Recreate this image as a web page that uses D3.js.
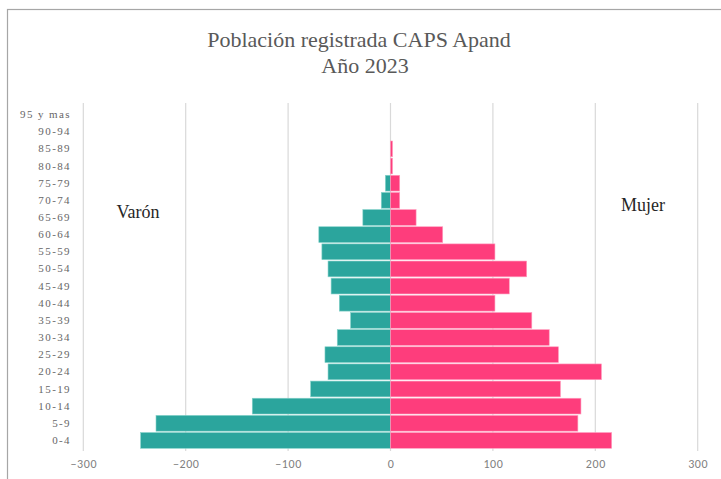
<!DOCTYPE html>
<html><head><meta charset="utf-8">
<script src="https://cdn.jsdelivr.net/npm/d3@7"></script>
<style>body{margin:0;background:#fff}</style>
</head><body>
<svg id="c" width="721" height="479"></svg>
<script>
const categories = ["0-4","5-9","10-14","15-19","20-24","25-29","30-34","35-39","40-44","45-49","50-54","55-59","60-64","65-69","70-74","75-79","80-84","85-89","90-94","95 y mas"];
const categoryLabels = ["0-4","5-9","10-14","15-19","20-24","25-29","30-34","35-39","40-44","45-49","50-54","55-59","60-64","65-69","70-74","75-79","80-84","85-89","90-94","95 y mas"];
const varon = [244,229,135,78,61,64,52,39,50,58,61,67,70,27,9,5,0,0,0,0];
const mujer = [216,183,186,166,206,164,155,138,102,116,133,102,51,25,9,9,2,2,0,0];
const xTicks = [-300,-200,-100,0,100,200,300];
const titleLines = ["Población registrada CAPS Apand","Año 2023"];
const seriesNames = ["Varón","Mujer"];

const svg = d3.select("#c");
svg.append("rect").attr("x",7.5).attr("y",9.5).attr("width",730).attr("height",500)
  .attr("fill","#fff").attr("stroke","#a6a6a6").attr("stroke-width",1.2);

const x = d3.scaleLinear().domain([-300,300]).range([83.3,697.7]);
const y = d3.scaleBand().domain(categories).range([449,106]).paddingInner(0.08).paddingOuter(0.04);

// gridlines
svg.append("g").selectAll("line").data(xTicks).join("line")
  .attr("x1",d=>x(d)).attr("x2",d=>x(d)).attr("y1",103).attr("y2",451)
  .attr("stroke","#d9d9d9").attr("stroke-width",1.2);

// bars
svg.append("g").selectAll("rect").data(categories).join("rect")
  .attr("x",(d,i)=>x(-varon[i])).attr("width",(d,i)=>x(0)-x(-varon[i]))
  .attr("y",d=>y(d)).attr("height",y.bandwidth())
  .attr("fill","#2ba59d").attr("stroke","#86d2ca").attr("stroke-width",0.6);
svg.append("g").selectAll("rect").data(categories).join("rect")
  .attr("x",x(0)).attr("width",(d,i)=>x(mujer[i])-x(0))
  .attr("y",d=>y(d)).attr("height",y.bandwidth())
  .attr("fill","#fe3d7c").attr("stroke","#ffa0c0").attr("stroke-width",0.6);

// x axis tick labels
const xAxis = d3.axisBottom(x).tickValues(xTicks).tickSize(0).tickPadding(0);
const gx = svg.append("g").attr("transform","translate(0,459)").call(xAxis);
gx.select(".domain").remove();
gx.selectAll("text").attr("font-family","Carlito, 'Liberation Sans', sans-serif")
  .attr("font-size",12).attr("letter-spacing",0.6).attr("fill","#808080").attr("dy","0.71em");

// y axis labels
const yAxis = d3.axisLeft(y).tickSize(0).tickPadding(0).tickFormat((d,i)=>categoryLabels[i]);
const gy = svg.append("g").attr("transform","translate(71,0)").call(yAxis);
gy.select(".domain").remove();
gy.selectAll("text").attr("font-family","'Liberation Serif', serif")
  .attr("font-size",11).attr("letter-spacing",1.4).attr("fill","#666666");

// title
svg.append("text").attr("x",359).attr("y",47).attr("text-anchor","middle")
  .attr("font-family","'Liberation Serif', serif").attr("font-size",22).attr("fill","#595959")
  .text(titleLines[0]);
svg.append("text").attr("x",365).attr("y",73).attr("text-anchor","middle")
  .attr("font-family","'Liberation Serif', serif").attr("font-size",22).attr("fill","#595959")
  .text(titleLines[1]);

// series labels
svg.append("text").attr("x",138).attr("y",218).attr("text-anchor","middle")
  .attr("font-family","'Liberation Serif', serif").attr("font-size",18).attr("fill","#262626")
  .text(seriesNames[0]);
svg.append("text").attr("x",643).attr("y",211).attr("text-anchor","middle")
  .attr("font-family","'Liberation Serif', serif").attr("font-size",18).attr("fill","#262626")
  .text(seriesNames[1]);
</script>
</body></html>
